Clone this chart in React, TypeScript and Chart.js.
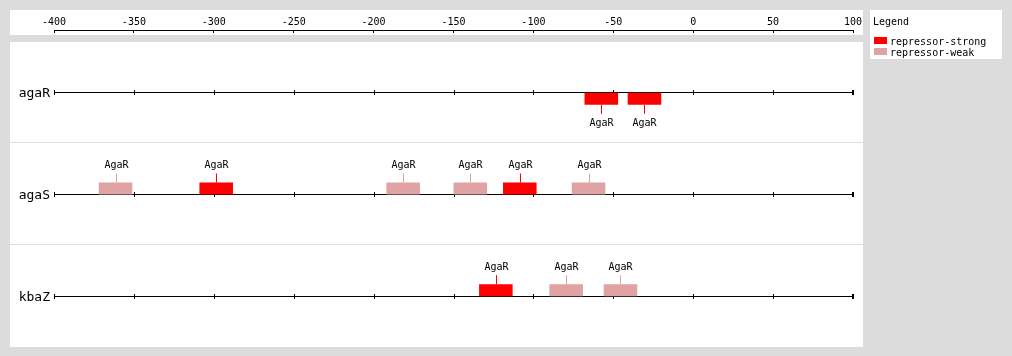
import { useEffect, useRef } from 'react';
import { Chart, registerables } from 'chart.js';

Chart.register(...registerables);

// ---- data ----
const genes = ['agaR', 'agaS', 'kbaZ'];
const siteGene = ['agaR', 'agaR', 'agaS', 'agaS', 'agaS', 'agaS', 'agaS', 'agaS', 'kbaZ', 'kbaZ', 'kbaZ'];
const siteStart = [-68, -41, -372, -309, -192, -150, -119, -76, -134, -90, -56];
const siteEnd = [-47, -20, -351, -288, -171, -129, -98, -55, -113, -69, -35];
const siteType = [
  'repressor-strong', 'repressor-strong',
  'repressor-weak', 'repressor-strong', 'repressor-weak', 'repressor-weak', 'repressor-strong', 'repressor-weak',
  'repressor-strong', 'repressor-weak', 'repressor-weak',
];
const siteFactor = ['AgaR', 'AgaR', 'AgaR', 'AgaR', 'AgaR', 'AgaR', 'AgaR', 'AgaR', 'AgaR', 'AgaR', 'AgaR'];
const siteStrand = ['-', '-', '+', '+', '+', '+', '+', '+', '+', '+', '+'];
const siteTypes = ['repressor-strong', 'repressor-weak'];
const strands = ['+', '-'];
const axisMin = -400;
const axisMax = 100;
const axisStep = 50;

// ---- styles ----
const MONO = '"DejaVu Sans Mono", monospace';
const typeColors: Record<string, string> = {
  'repressor-strong': '#ff0000',
  'repressor-weak': '#e0a2a2',
};
const PAGE_BG = '#dcdcdc';
const SEP_COLOR = '#dddddd';

const panelsPlugin = {
  id: 'panels',
  beforeDraw(chart: any) {
    const { ctx, chartArea: ca, width, height } = chart;
    const xs = chart.scales.x;
    const ys = chart.scales.y;
    const pl = ca.left - 44;
    const pr = ca.right + 10;
    ctx.save();
    ctx.fillStyle = PAGE_BG;
    ctx.fillRect(0, 0, width, height);
    ctx.fillStyle = '#ffffff';
    // top axis panel
    ctx.fillRect(pl, xs.top, pr - pl, xs.bottom + 5 - xs.top);
    // main panel
    ctx.fillRect(pl, ca.top, pr - pl, ca.bottom - ca.top);
    // legend panel
    ctx.fillRect(pr + 7, xs.top, width - 10 - (pr + 7), 49);
    // row separators
    ctx.strokeStyle = SEP_COLOR;
    ctx.lineWidth = 1;
    for (let i = 0; i < genes.length - 1; i++) {
      const y = Math.floor((ys.getPixelForValue(i) + ys.getPixelForValue(i + 1)) / 2) - 0.5;
      ctx.beginPath();
      ctx.moveTo(pl, y);
      ctx.lineTo(pr, y);
      ctx.stroke();
    }
    // row labels
    ctx.font = `13px ${MONO}`;
    ctx.textAlign = 'right';
    ctx.textBaseline = 'middle';
    ctx.fillStyle = '#000000';
    genes.forEach((g, i) => {
      ctx.fillText(g, ca.left - 4, ys.getPixelForValue(i) + 1);
    });
    ctx.restore();
  },
  beforeDatasetsDraw(chart: any) {
    const { ctx } = chart;
    const xs = chart.scales.x;
    const ys = chart.scales.y;
    ctx.save();
    ctx.strokeStyle = '#000000';
    ctx.lineWidth = 1;
    for (let i = 0; i < genes.length; i++) {
      const y = Math.floor(ys.getPixelForValue(i));
      const x0 = xs.getPixelForValue(axisMin);
      const x1 = xs.getPixelForValue(axisMax);
      ctx.beginPath();
      ctx.moveTo(x0, y + 0.5);
      ctx.lineTo(x1 + 1, y + 0.5);
      ctx.stroke();
      xs.ticks.forEach((t: any) => {
        const px = Math.round(xs.getPixelForValue(t.value)) + 0.5;
        ctx.beginPath();
        ctx.moveTo(px, y - 2);
        ctx.lineTo(px, y + 3);
        ctx.stroke();
      });
      // heavier end tick
      const pe = Math.round(x1) - 0.5;
      ctx.beginPath();
      ctx.moveTo(pe, y - 2);
      ctx.lineTo(pe, y + 3);
      ctx.stroke();
    }
    ctx.restore();
  },
  afterDatasetsDraw(chart: any) {
    const { ctx } = chart;
    ctx.save();
    ctx.font = `10px ${MONO}`;
    ctx.textAlign = 'center';
    ctx.textBaseline = 'middle';
    chart.data.datasets.forEach((ds: any, di: number) => {
      const meta = chart.getDatasetMeta(di);
      meta.data.forEach((el: any, j: number) => {
        const p = el.getProps(['x', 'y', 'base', 'height'], true);
        const cx = Math.round((p.x + p.base) / 2) + 0.5;
        const above = ds.stack === 'above';
        ctx.strokeStyle = ds.backgroundColor;
        ctx.lineWidth = 1;
        ctx.beginPath();
        if (above) {
          const top = p.y - p.height / 2;
          ctx.moveTo(cx, top);
          ctx.lineTo(cx, top - 9);
          ctx.stroke();
          ctx.fillStyle = '#000000';
          ctx.fillText(ds.data[j].factor, cx, top - 17);
        } else {
          const bot = p.y + p.height / 2;
          ctx.moveTo(cx, bot);
          ctx.lineTo(cx, bot + 9);
          ctx.stroke();
          ctx.fillStyle = '#000000';
          ctx.fillText(ds.data[j].factor, cx, bot + 19);
        }
      });
    });
    ctx.restore();
  },
  afterDraw(chart: any) {
    const { ctx, chartArea: ca } = chart;
    const xs = chart.scales.x;
    const lx = ca.right + 17;
    const ly = xs.top;
    ctx.save();
    ctx.font = `10px ${MONO}`;
    ctx.textAlign = 'left';
    ctx.textBaseline = 'middle';
    ctx.fillStyle = '#000000';
    ctx.fillText('Legend', lx + 3, ly + 12);
    siteTypes.forEach((t, i) => {
      ctx.fillStyle = typeColors[t];
      ctx.fillRect(lx + 4, ly + 27 + i * 11, 13, 7);
      ctx.fillStyle = '#000000';
      ctx.fillText(t, lx + 20, ly + 32 + i * 11);
    });
    ctx.restore();
  },
};

function buildDatasets() {
  const out: any[] = [];
  strands.forEach((s) => {
    siteTypes.forEach((t) => {
      const data: any[] = [];
      siteGene.forEach((g, i) => {
        if (siteStrand[i] === s && siteType[i] === t) {
          data.push({ x: [siteStart[i], siteEnd[i]], y: g, factor: siteFactor[i] });
        }
      });
      out.push({
        label: t,
        stack: s === '+' ? 'above' : 'below',
        data,
        backgroundColor: typeColors[t],
        borderWidth: 0,
        inflateAmount: 0,
        barThickness: 12,
        grouped: true,
      });
    });
  });
  return out;
}

export default function App() {
  const ref = useRef<HTMLCanvasElement | null>(null);
  useEffect(() => {
    if (!ref.current) return;
    const chart = new Chart(ref.current, {
      type: 'bar',
      data: { labels: genes, datasets: buildDatasets() },
      options: {
        indexAxis: 'y',
        responsive: false,
        animation: false,
        devicePixelRatio: 1,
        events: [],
        layout: { padding: { left: 54, right: 159, top: 10, bottom: 9 } },
        plugins: { legend: { display: false }, tooltip: { enabled: false }, title: { display: false } },
        scales: {
          x: {
            type: 'linear',
            position: 'top',
            weight: 1,
            min: axisMin,
            max: axisMax,
            stacked: false,
            ticks: {
              stepSize: axisStep,
              font: { family: MONO, size: 10 },
              color: '#000000',
              padding: 5,
              maxRotation: 0,
              autoSkip: false,
            },
            grid: { display: true, drawOnChartArea: false, tickLength: -3, color: '#000000', lineWidth: 1 },
            border: { display: true, color: '#000000', width: 1 },
            afterFit: (s: any) => { s.height = 20; },
          },
          xgap: {
            type: 'linear',
            axis: 'x',
            position: 'top',
            weight: 0,
            display: true,
            ticks: { display: false },
            grid: { display: false },
            border: { display: false },
            afterFit: (s: any) => { s.height = 12; },
          },
          y: {
            type: 'category',
            position: 'left',
            offset: true,
            display: false,
          },
        },
      } as any,
      plugins: [panelsPlugin],
    });
    return () => chart.destroy();
  }, []);
  return (
    <>
      <style>{'body{margin:0;background:#dcdcdc}'}</style>
      <canvas ref={ref} width={1012} height={356} style={{ display: 'block' }} />
    </>
  );
}
